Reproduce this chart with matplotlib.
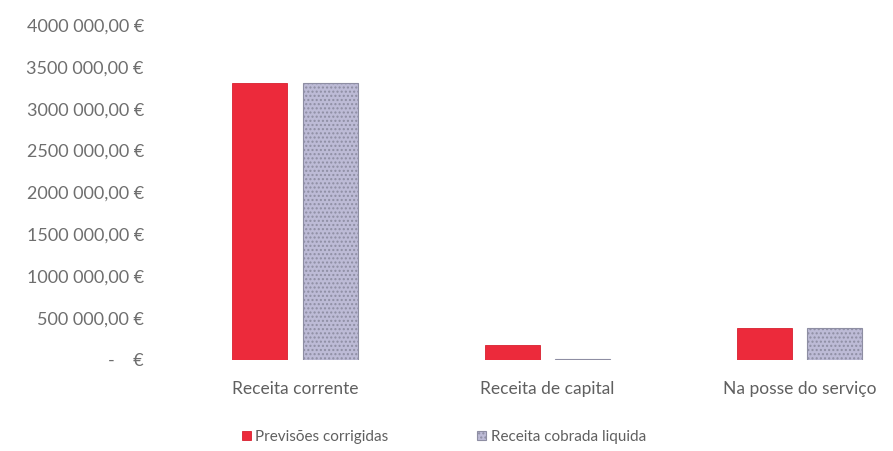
import numpy as np
import matplotlib.pyplot as plt
from matplotlib.ticker import FuncFormatter

# receitas por tipo (euros)
categorias = ['Receita corrente', 'Receita de capital', 'Na posse do serviço']
previsoes = [3310000, 180000, 380000]
cobrada = [3310000, 6000, 380000]
series = ['Previsões corrigidas', 'Receita cobrada liquida']

plt.rcParams['font.family'] = ['Lato', 'DejaVu Sans']
plt.rcParams['hatch.color'] = '#d9d7ea'

fig = plt.figure(figsize=(8.93, 4.51), dpi=100)
ax = fig.add_axes([0.189, 0.2018, 0.848, 0.7428])

x = np.arange(len(categorias))
w = 0.218
off = 0.139
ax.bar(x - off, previsoes, w, color='#ec2a3b', edgecolor='#d8202f', linewidth=0.6,
       label=series[0])
ax.bar(x + off, cobrada, w, color='#bdbbd6', edgecolor='#8e8ea3', linewidth=0.8,
       hatch='....', label=series[1])

ax.set_xlim(-0.5, 2.5)
ax.set_ylim(0, 4000000)
ax.set_yticks(np.arange(0, 4000001, 500000))


def euros(v, pos):
    if v == 0:
        return '-    €'
    mil = int(v) // 1000000
    resto = int(v) % 1000000
    s = f'{resto // 1000:03d} {resto % 1000:03d},00 €'
    if mil:
        return f'{mil}{s}'
    return s.lstrip('0')


ax.yaxis.set_major_formatter(FuncFormatter(euros))
ax.set_xticks(x)
ax.set_xticklabels(categorias)
ax.tick_params(axis='y', length=0, pad=18, labelsize=13, labelcolor='#6e6e6e')
ax.tick_params(axis='x', length=0, pad=15, labelsize=12.5, labelcolor='#606060')
for s in ax.spines.values():
    s.set_visible(False)

leg = fig.legend(loc='center', bbox_to_anchor=(0.497, 0.031), ncol=2, frameon=False,
                 fontsize=11, handlelength=0.6, handleheight=0.6, handletextpad=0.3,
                 columnspacing=5.8)
for t in leg.get_texts():
    t.set_color('#606060')

fig.savefig('out.png', dpi=100)
